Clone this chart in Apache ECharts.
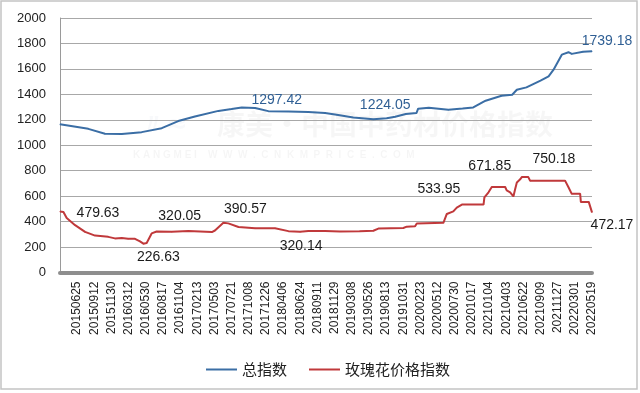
<!DOCTYPE html>
<html><head><meta charset="utf-8">
<script src="https://cdn.jsdelivr.net/npm/echarts@6/dist/echarts.min.js"></script>
<style>html,body{margin:0;padding:0;background:#fff}#c{width:640px;height:393px}</style>
</head><body><div id="c"></div>
<script>
// Tick labels (evenly spaced; the data span starts one slot before the first label)
const xTickLabels = ['20150625','20150912','20151130','20160312','20160530','20160817','20161104','20170213','20170503','20170721','20171008','20171226','20180406','20180624','20180911','20181129','20190308','20190526','20190813','20191031','20200223','20200512','20200730','20201017','20210104','20210403','20210622','20210909','20211127','20220301','20220519'];
// Series names
const seriesNames = ['总指数', '玫瑰花价格指数'];
// 总指数: positions (in label slots) and values
const totalPos = [0,1.65,2.62,3.60,4.76,5.93,6.89,7.86,9.23,10.0,10.59,11.37,12.14,13.31,14.47,15.45,16.12,17.09,18.26,19.04,19.53,20.15,20.77,20.87,21.49,22.63,23.46,24.08,24.8,25.73,26.35,26.62,27.18,28.0,28.47,28.76,29.24,29.63,29.82,30.48,31];
const totalVal = [1165,1129,1090,1089,1103,1134,1190,1226,1270,1284,1297.42,1293,1268,1265,1262,1253,1239,1218,1205,1212,1224.05,1245,1253,1287,1295,1279,1288,1297,1350,1389,1397,1436,1455,1508,1541,1594,1712,1731,1718,1734,1739.18];
// 玫瑰花价格指数: positions (in label slots) and values
const rosePos = [0,0.20,0.39,0.88,1.46,2.04,2.81,3.20,3.60,3.97,4.37,4.66,4.86,5.05,5.34,5.63,6.51,7.48,8.85,9.03,9.52,9.81,10.40,11.37,12.53,13.31,13.99,14.47,15.45,16.32,17.46,18.26,18.55,20.01,20.20,20.69,20.79,22.34,22.54,22.92,23.12,23.42,24.68,24.73,24.97,25.16,25.94,26.03,26.23,26.42,26.52,26.62,26.80,26.91,27.29,27.39,29.43,29.63,29.82,30.31,30.35,30.81,31];
const roseVal = [479.63,476,428,372,319,290,280,268,272,266,265,245,226.63,232,307,322,320.05,326,318,330,390.57,386,358,348,347,325,320.14,326,326,322,325,328,345,350,360,363,385,390,460,480,510,533.95,534,590,630,671.85,672,645,630,598,655,708,730,750.18,750,722,722,670,618,618,555,555,472.17];
// Values that carry a data label
const totalLabelled = [1297.42,1224.05,1739.18];
const roseLabelled = [479.63,226.63,320.05,390.57,320.14,533.95,671.85,750.18,472.17];

// label placement (style only)
const labelOffsets = {
  '1297.42':[35,-7],'1224.05':[-10,-12],'1739.18':[15,-10],
  '479.63':[38,2],'226.63':[15,13],'320.05':[8,-16],'390.57':[22,-14],'320.14':[1,14],
  '533.95':[-23,-15],'671.85':[-2,-21],'750.18':[32,-18],'472.17':[20,13]
};
function build(pos, val, labelled, color){
  return pos.map((p,i)=>{
    const v = val[i];
    const item = {value:[p, v]};
    if (labelled.indexOf(v) >= 0){
      item.label = {show:true, position:'inside', align:'center', verticalAlign:'middle',
        offset: labelOffsets[String(v)], formatter: ()=> v.toFixed(2),
        color: color, fontSize: 14, fontFamily:'Liberation Sans, Arial, sans-serif'};
    }
    return item;
  });
}
const chart = echarts.init(document.getElementById('c'), null, {renderer:'canvas'});
const option = {
  backgroundColor:'#ffffff',
  animation:false,
  graphic:[
    {type:'rect', shape:{x:1,y:1,width:636,height:388}, style:{fill:'none', stroke:'#c4c4c4', lineWidth:1.5}, z:-1},
    {type:'text', left:140, top:112, z:-1, style:{text:'〃≈', font:'bold 26px "DejaVu Sans"', fill:'rgba(120,140,170,0.05)'}},
    {type:'text', left:217, top:110, z:-1, style:{text:'康美·中国中药材价格指数', font:'bold 28px "Noto Sans CJK SC"', fill:'rgba(0,0,0,0.035)'}},
    {type:'text', left:133, top:150, z:-1, style:{text:'K A N G M E I    W  W  W  .  C  N  K  M  P  R  I  C  E  .  C  O  M', font:'bold 10px "Liberation Sans"', fill:'rgba(0,0,0,0.04)'}}
  ],
  grid:{left:60, right:48, top:18, bottom:120.5, containLabel:false},
  legend:{
    left:201, top:357, itemWidth:31, itemHeight:2, itemGap:22, icon:'rect',
    textStyle:{fontSize:15, color:'#222', fontFamily:'"Noto Sans CJK SC"'},
    data: seriesNames
  },
  xAxis:{
    type:'value', min:0, max:31, interval:1,
    axisLine:{show:true, lineStyle:{color:'#8e8e8e', width:4}},
    axisTick:{show:false}, splitLine:{show:false},
    axisLabel:{rotate:90, margin:9, fontSize:12, color:'#222', fontFamily:'Liberation Sans, Arial, sans-serif',
      showMinLabel:true, showMaxLabel:true,
      formatter:(v)=> (v>=1 && v<=31) ? xTickLabels[Math.round(v)-1] : ''}
  },
  yAxis:{
    type:'value', min:0, max:2000, interval:200,
    axisLine:{show:true, lineStyle:{color:'#9a9a9a', width:1}},
    axisTick:{show:false},
    splitLine:{lineStyle:{color:'#a8a8a8', width:1}},
    axisLabel:{fontSize:13, color:'#222', margin:14, fontFamily:'Liberation Sans, Arial, sans-serif',
      formatter:(v)=> String(v)}
  },
  series:[
    {name:seriesNames[0], type:'line', data:build(totalPos,totalVal,totalLabelled,'#2f5f94'),
     symbol:'circle', symbolSize:1, showSymbol:true, lineStyle:{color:'#3b6ea5', width:2}, itemStyle:{color:'#3b6ea5'}, z:3},
    {name:seriesNames[1], type:'line', data:build(rosePos,roseVal,roseLabelled,'#1a1a1a'),
     symbol:'circle', symbolSize:1, showSymbol:true, lineStyle:{color:'#c0393b', width:2}, itemStyle:{color:'#c0393b'}, z:3}
  ]
};
chart.setOption(option);
</script></body></html>
